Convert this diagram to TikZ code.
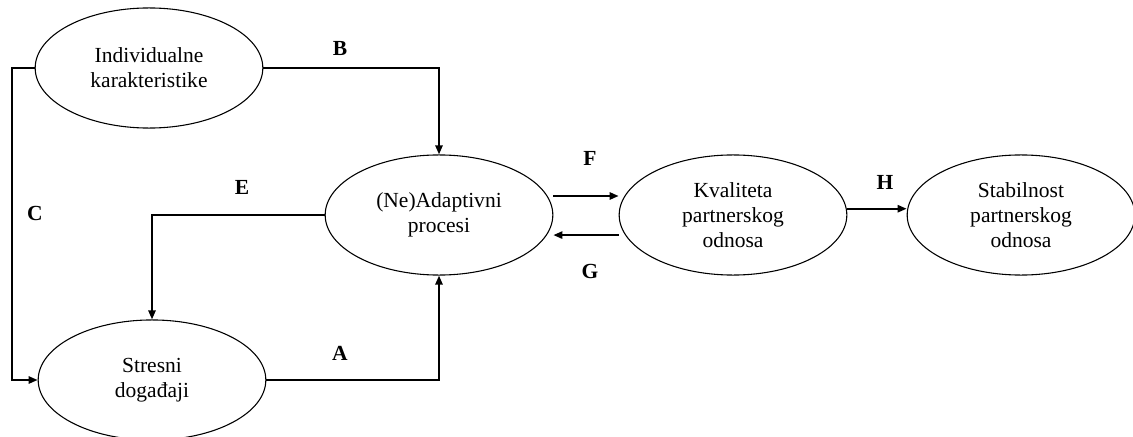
\documentclass[tikz,border=0pt]{standalone}
\usepackage{fontspec}
\setmainfont{Liberation Serif}
\usepackage{tikz}
\usetikzlibrary{shapes.geometric,arrows.meta}
\tikzset{%
    factor/.style={%
        ellipse, draw, line width=0.6pt, inner sep=0pt,
        minimum width=127pt, minimum height=67pt, align=center,
        font=\fontsize{12}{14}\selectfont
    },
    link/.style={line width=1.1pt, -{Triangle[length=5pt,width=4pt]}},
    path/.style={font=\fontsize{12}{14}\selectfont\bfseries}
}

\begin{document}
\begin{tikzpicture}[x=0.0196cm,y=-0.0196cm]
    \useasboundingbox (0,0) rectangle (1133,437);
%    ellipses
    \node[factor] (indiv) at (149,68) {Individualne\\karakteristike};
    \node[factor] (stres) at (152,380) {Stresni\\događaji};
    \node[factor] (adapt) at (439,215) {(Ne)Adaptivni\\procesi};
    \node[factor] (kval) at (733,215) {Kvaliteta\\partnerskog\\odnosa};
    \node[factor] (stab) at (1021,215) {Stabilnost\\partnerskog\\odnosa};
    \coordinate (cleft) at (12,0);
%    connectors
    \draw[link] (indiv.east) -| (adapt.north);
    \draw[link] (indiv.west) -- (indiv.west -| cleft) |- (stres.west);
    \draw[link] (adapt.west) -| (stres.north);
    \draw[link] (stres.east) -| (adapt.south);
    \draw[link] ([yshift=10.6pt]adapt.east) -- ([yshift=10.6pt]kval.west);
    \draw[link] ([yshift=-11.2pt]kval.west) -- ([yshift=-11.2pt]adapt.east);
    \draw[link] ([yshift=3.5pt]kval.east) -- ([yshift=3.5pt]stab.west);
%    labels
    \node[path] (lblA) at (340,353) {A};
    \node[path] (lblB) at (340,48) {B};
    \node[path] (lblC) at (35,213) {C};
    \node[path] (lblE) at (242,187) {E};
    \node[path] (lblF) at (590,158) {F};
    \node[path] (lblG) at (590,271) {G};
    \node[path] (lblH) at (885,182) {H};
\end{tikzpicture}
\end{document}
